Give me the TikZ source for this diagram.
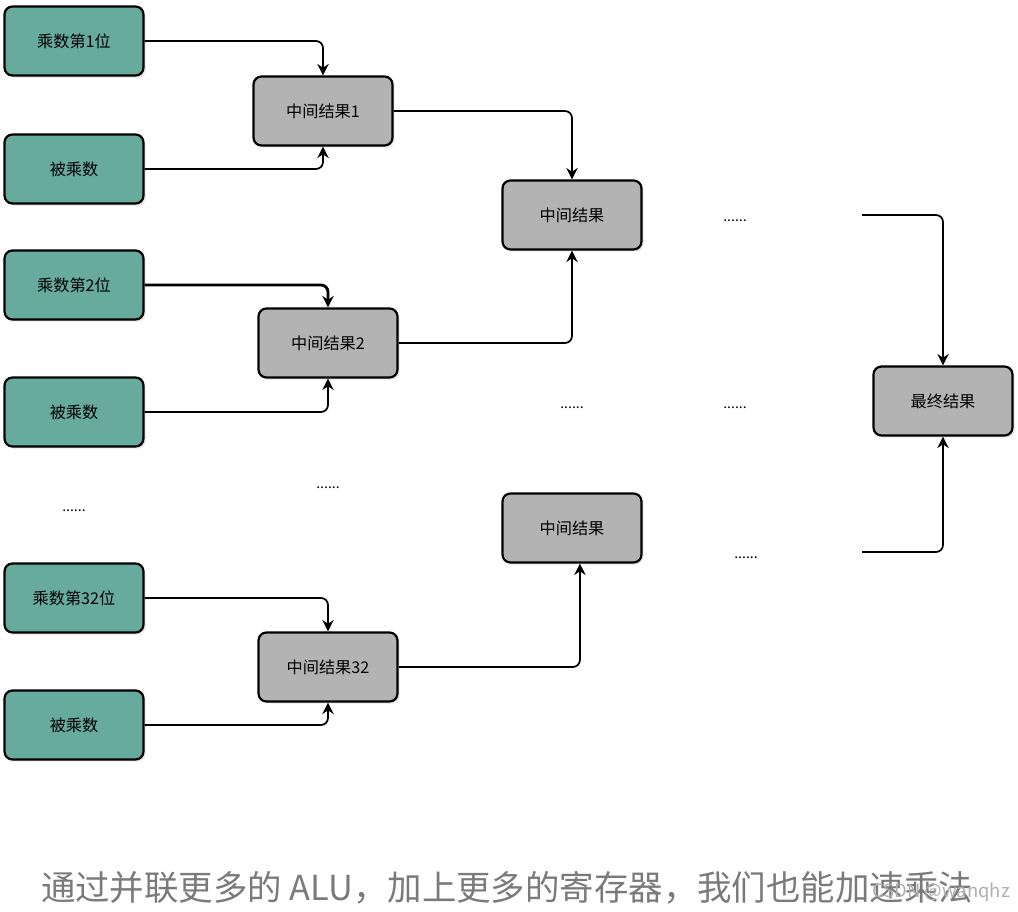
\documentclass[tikz,border=0pt]{standalone}
\usepackage{fontspec}
\setmainfont{Noto Sans CJK SC}
\usepackage{tikz}
\usetikzlibrary{
    positioning,
    arrows.meta,
    shadows
}
\definecolor{inputgreen}{HTML}{67AB9F}
\definecolor{midgray}{HTML}{B3B3B3}
\definecolor{captiongray}{HTML}{7A7A7A}
\tikzset{
    >=Stealth,
    box/.style={
        draw=black,
        line width=1.25pt,
        rounded corners=4.5pt,
        minimum width=2.78cm,
        minimum height=1.38cm,
        inner sep=2pt,
        font=\fontsize{9.2}{11}\selectfont,
        drop shadow={shadow xshift=1.2pt, shadow yshift=-1.2pt, opacity=0.2}
    },
    inbox/.style={box, fill=inputgreen},
    midbox/.style={box, fill=midgray},
    link/.style={
        ->,
        line width=1pt,
        rounded corners=4pt,
        >={Stealth[length=6.5pt,width=6.5pt]}
    },
    dots/.style={font=\fontsize{8}{10}\selectfont}
}

\begin{document}
\begin{tikzpicture}[
    x=0.02cm,
    y=-0.02cm
]

    \useasboundingbox (0,0) rectangle (1018,912);

    % 输入
    \node[inbox] (m1)  at (74,41)  {乘数第1位};
    \node[inbox] (b1)  at (74,169) {被乘数};
    \node[inbox] (m2)  at (74,285) {乘数第2位};
    \node[inbox] (b2)  at (74,412) {被乘数};
    \node[inbox] (m32) at (74,598) {乘数第32位};
    \node[inbox] (b32) at (74,725) {被乘数};

    % 中间结果
    \node[midbox] (r1)  at (323,111) {中间结果1};
    \node[midbox] (r2)  at (328,343) {中间结果2};
    \node[midbox] (r32) at (328,667) {中间结果32};
    \node[midbox] (s1)  at (572,215) {中间结果};
    \node[midbox] (s2)  at (572,528) {中间结果};
    \node[midbox] (fin) at (943,401) {最终结果};

    % 省略
    \node[dots] (d1) at (735,221) {......};
    \node[dots] (d2) at (572,408) {......};
    \node[dots] (d3) at (735,408) {......};
    \node[dots] (d4) at (328,488) {......};
    \node[dots] (d5) at (74,511)  {......};
    \node[dots] (d6) at (746,558) {......};

    \coordinate (e1) at (862,215);
    \coordinate (e2) at (862,552);

    % 连线
    \draw[link] (m1.east) -| (r1.north);
    \draw[link] (b1.east) -| (r1.south);
    \draw[link] (r1.east) -| (s1.north);
    \draw[link, line width=1.6pt] (m2.east) -| (r2.north);
    \draw[link] (b2.east) -| (r2.south);
    \draw[link] (r2.east) -| (s1.south);
    \draw[link] (m32.east) -| (r32.north);
    \draw[link] (b32.east) -| (r32.south);
    \draw[link] (r32.east) -| ([xshift=4.5pt]s2.south);
    \draw[link] (e1) -| (fin.north);
    \draw[link] (e2) -| (fin.south);

    % 说明
    \node[text=captiongray, font=\fontsize{19.6}{22}\selectfont]
        (cap) at (507,888) {通过并联更多的 ALU，加上更多的寄存器，我们也能加速乘法};
    \node[text=captiongray!60, font=\fontsize{10.5}{12}\selectfont, anchor=east]
        (wm) at (1016,892) {CSDN @wanqhz};

\end{tikzpicture}
\end{document}
